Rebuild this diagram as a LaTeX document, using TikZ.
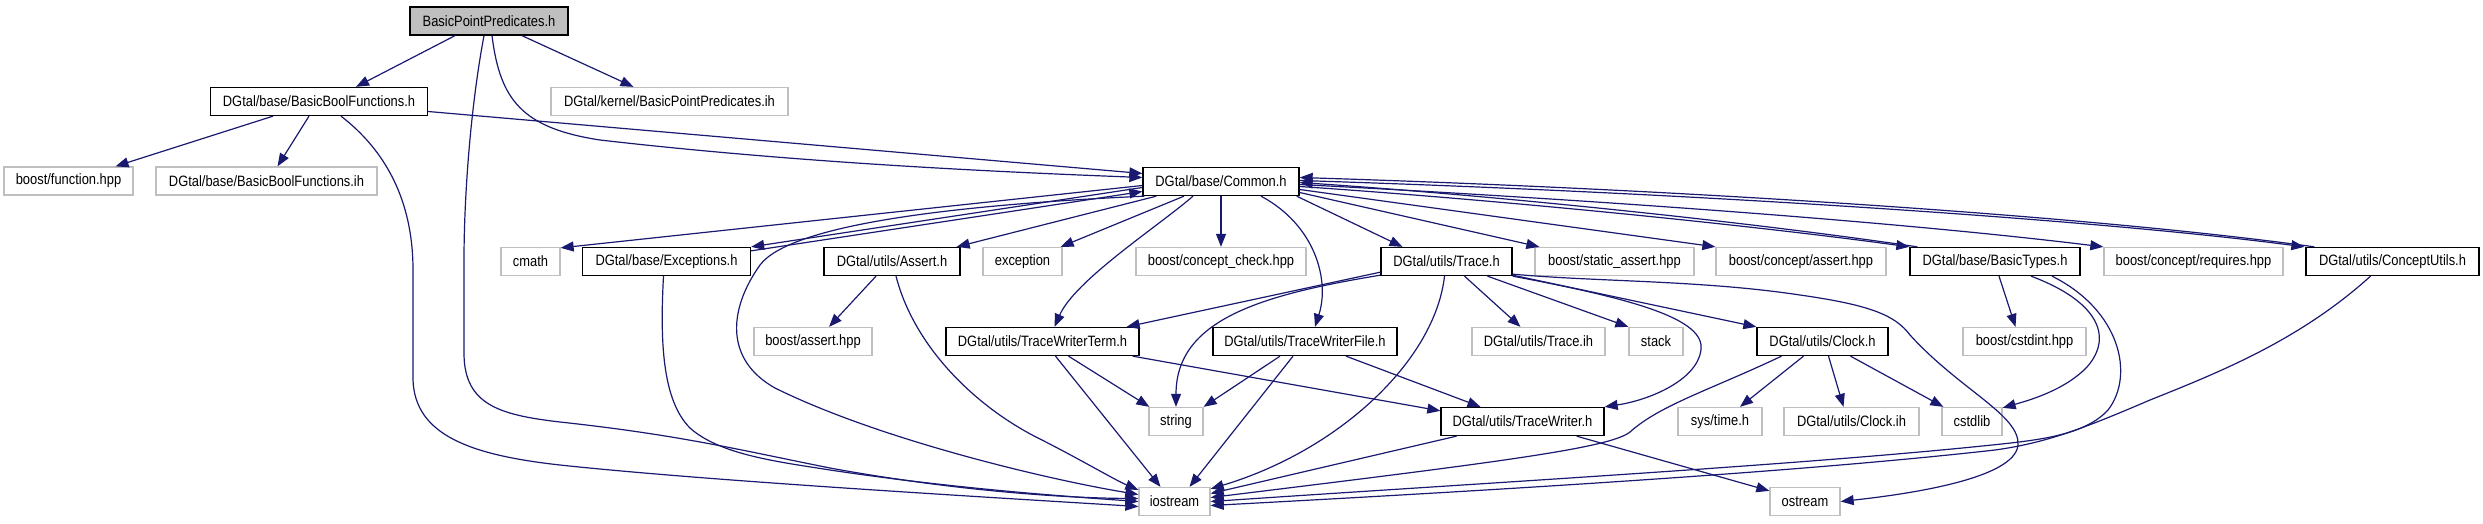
\documentclass[tikz,border=0pt]{standalone}
\usepackage{fontspec}
\setmainfont[FakeStretch=0.86]{Liberation Sans}
\usetikzlibrary{arrows.meta,calc}
\definecolor{edgeblue}{HTML}{191970}
\definecolor{lightgr}{HTML}{BFBFBF}
\begin{document}
\begin{tikzpicture}[x=1pt,y=-1pt,
  nd/.style={draw=black, line width=1.3pt, minimum height=28pt, inner xsep=6pt, inner ysep=0pt, font=\fontsize{15}{17}\selectfont, fill=white},
  ext/.style={nd, draw=lightgr},
  rootnd/.style={nd, fill=lightgr},
  edge/.style={draw=edgeblue, line width=1.2pt, -{Triangle[length=13pt,width=10pt]}}]
\useasboundingbox (0,0) rectangle (2483,523);
% nodes
\node[rootnd, minimum width=158pt] (bpp) at (489,21) {BasicPointPredicates.h};
\node[nd, minimum width=217pt] (bbf) at (319,101.5) {DGtal/base/BasicBoolFunctions.h};
\node[ext, minimum width=237pt] (bppih) at (669.5,101.5) {DGtal/kernel/BasicPointPredicates.ih};
\node[ext, minimum width=129pt] (bfun) at (68.5,181) {boost/function.hpp};
\node[ext, minimum width=221pt] (bbfih) at (266.5,181) {DGtal/base/BasicBoolFunctions.ih};
\node[nd, minimum width=156pt] (common) at (1221,181.5) {DGtal/base/Common.h};
\node[ext, minimum width=59pt] (cmath) at (530.5,261.5) {cmath};
\node[nd, minimum width=168pt] (exc) at (666.5,261.5) {DGtal/base/Exceptions.h};
\node[nd, minimum width=136pt] (assert) at (892,261.5) {DGtal/utils/Assert.h};
\node[ext, minimum width=79pt] (exception) at (1022.5,261.5) {exception};
\node[ext, minimum width=170pt] (cchk) at (1221,261.5) {boost/concept\_check.hpp};
\node[nd, minimum width=131pt] (trace) at (1446.5,261.5) {DGtal/utils/Trace.h};
\node[ext, minimum width=159pt] (sassert) at (1614.5,261.5) {boost/static\_assert.hpp};
\node[ext, minimum width=170pt] (cassert) at (1801,261.5) {boost/concept/assert.hpp};
\node[nd, minimum width=170pt] (btypes) at (1995,261.5) {DGtal/base/BasicTypes.h};
\node[ext, minimum width=179pt] (creq) at (2193.5,261.5) {boost/concept/requires.hpp};
\node[nd, minimum width=173pt] (cutils) at (2392.5,261.5) {DGtal/utils/ConceptUtils.h};
\node[ext, minimum width=118pt] (bassert) at (813,341.5) {boost/assert.hpp};
\node[nd, minimum width=193pt] (twterm) at (1042.5,341.5) {DGtal/utils/TraceWriterTerm.h};
\node[nd, minimum width=184pt] (twfile) at (1305,341.5) {DGtal/utils/TraceWriterFile.h};
\node[ext, minimum width=133pt] (traceih) at (1538.5,341.5) {DGtal/utils/Trace.ih};
\node[ext, minimum width=54pt] (stack) at (1656,341.5) {stack};
\node[nd, minimum width=131pt] (clock) at (1822.5,341.5) {DGtal/utils/Clock.h};
\node[ext, minimum width=123pt] (cstdint) at (2024.5,341.5) {boost/cstdint.hpp};
\node[ext, minimum width=54pt] (string) at (1176,421.5) {string};
\node[nd, minimum width=163pt] (tw) at (1522.5,421.5) {DGtal/utils/TraceWriter.h};
\node[ext, minimum width=84pt] (systime) at (1720,421.5) {sys/time.h};
\node[ext, minimum width=135pt] (clockih) at (1851.5,421.5) {DGtal/utils/Clock.ih};
\node[ext, minimum width=60pt] (cstdlib) at (1972,421.5) {cstdlib};
\node[ext, minimum width=71pt] (iostream) at (1174.5,501.5) {iostream};
\node[ext, minimum width=70pt] (ostream) at (1805,501.5) {ostream};
% edges from BasicPointPredicates.h
\draw[edge] ($(bpp.south)+(-34,0)$) -- ($(bbf.north)+(37,0)$);
\draw[edge] ($(bpp.south)+(33,0)$) -- ($(bppih.north)+(-36,0)$);
\draw[edge] ($(bpp.south)+(3,0)$) .. controls (500,100) and (522,128) .. (600,140) .. controls (800,163) and (1000,172) .. ($(common.west)+(0,-4)$);
\draw[edge] ($(bpp.south)+(-5,0)$) .. controls (470,110) and (464,200) .. (464,260) -- (464,355) .. controls (465,405) and (500,415) .. (560,422) .. controls (680,435) and (740,450) .. (830,468) .. controls (950,490) and (1060,498) .. ($(iostream.west)+(0,-3)$);
% edges from BasicBoolFunctions.h
\draw[edge] ($(bbf.east)+(0,10)$) -- ($(common.west)+(0,-8)$);
\draw[edge] ($(bbf.south)+(-46,0)$) -- ($(bfun.north)+(47,0)$);
\draw[edge] ($(bbf.south)+(-10,0)$) -- ($(bbfih.north)+(11,0)$);
\draw[edge] ($(bbf.south)+(22,0)$) .. controls (385,150) and (413,200) .. (413,270) -- (413,380) .. controls (415,435) and (470,455) .. (560,465) .. controls (700,480) and (950,495) .. ($(iostream.west)+(0,5)$);
% Exceptions
\draw[edge] ($(exc.south)+(-3,0)$) .. controls (660,340) and (662,400) .. (690,428) .. controls (720,455) and (780,462) .. (830,470) .. controls (950,488) and (1060,496) .. ($(iostream.west)+(0,0)$);
% Common
\draw[edge] ($(common.south west)+(2,0)$) .. controls (950,205) and (790,225) .. (760,265) .. controls (728,310) and (725,360) .. (775,388) .. controls (880,440) and (1050,480) .. ($(iostream.west)+(0,-7)$);
\draw[edge] ($(common.west)+(0,4)$) -- ($(cmath.north east)+(0,1)$);
\draw[edge] ($(common.west)+(0,6)$) -- ($(exc.north east)+(0,0)$);
\draw[edge] ($(exc.north east)+(0,4)$) -- ($(common.west)+(0,10)$);
\draw[edge] ($(common.south west)+(14,0)$) -- ($(assert.north east)+(-4,0)$);
\draw[edge] ($(common.south)+(-37,0)$) -- ($(exception.north east)+(-2,0)$);
\draw[edge] (common.south) -- (cchk.north);
\draw[edge] ($(common.south)+(-28,0)$) .. controls (1160,225) and (1075,280) .. ($(twterm.north)+(12,0)$);
\draw[edge] ($(common.south)+(40,0)$) .. controls (1315,225) and (1330,280) .. ($(twfile.north)+(10,0)$);
\draw[edge] ($(common.south east)+(-3,0)$) -- ($(trace.north)+(-44,0)$);
\draw[edge] ($(common.east)+(0,11)$) -- ($(sassert.north west)+(5,0)$);
\draw[edge] ($(common.east)+(0,8)$) -- ($(cassert.north west)+(0,0)$);
\draw[edge] ($(common.east)+(0,5)$) .. controls (1500,200) and (1750,225) .. ($(btypes.north west)+(0,0)$);
\draw[edge] ($(btypes.north west)+(8,0)$) .. controls (1750,222) and (1500,196) .. ($(common.east)+(0,1)$);
\draw[edge] ($(common.east)+(0,3)$) .. controls (1600,200) and (1900,222) .. ($(creq.north west)+(0,0)$);
\draw[edge] ($(common.east)+(0,-1)$) .. controls (1700,193) and (2100,220) .. ($(cutils.north west)+(-1,0)$);
\draw[edge] ($(cutils.north west)+(9,0)$) .. controls (2100,217) and (1700,190) .. ($(common.east)+(0,-4)$);
% Assert
\draw[edge] ($(assert.south)+(4,0)$) .. controls (915,350) and (980,410) .. (1042,440) .. controls (1085,462) and (1115,480) .. ($(iostream.north west)+(0,3)$);
\draw[edge] ($(assert.south)+(-16,0)$) -- ($(bassert.north)+(16,0)$);
% Trace
\draw[edge] ($(trace.south west)+(0,-4)$) -- ($(twterm.north east)+(-13,0)$);
\draw[edge] ($(trace.south west)+(0,-1)$) .. controls (1260,295) and (1176,320) .. (string.north);
\draw[edge] ($(trace.south)+(-2,0)$) .. controls (1435,360) and (1340,450) .. ($(iostream.north east)+(0,2)$);
\draw[edge] ($(trace.south)+(18,0)$) -- ($(traceih.north)+(-18,0)$);
\draw[edge] ($(trace.south)+(41,0)$) -- (stack.north west);
\draw[edge] ($(trace.south east)+(0,-1)$) -- (clock.north west);
\draw[edge] ($(trace.south east)+(0,0)$) .. controls (1640,300) and (1705,320) .. (1701,350) .. controls (1697,380) and (1650,400) .. (tw.north east);
\draw[edge] ($(trace.south east)+(0,-2)$) .. controls (1600,282) and (1700,280) .. (1800,295) .. controls (1870,305) and (1895,315) .. (1910,335) .. controls (1960,390) and (2020,415) .. (2018,445) .. controls (2015,480) and (1900,495) .. (ostream.east);
% TraceWriterTerm / File
\draw[edge] ($(twterm.south)+(26,0)$) -- ($(string.north west)+(1,0)$);
\draw[edge] ($(twterm.south)+(13,0)$) -- ($(iostream.north)+(-14,0)$);
\draw[edge] ($(twterm.south east)+(-7,0)$) -- ($(tw.north west)+(0,4)$);
\draw[edge] ($(twfile.south)+(-25,0)$) -- (string.north east);
\draw[edge] ($(twfile.south)+(-12,0)$) -- ($(iostream.north)+(15,0)$);
\draw[edge] ($(twfile.south)+(41,0)$) -- ($(tw.north)+(-42,0)$);
% TraceWriter
\draw[edge] ($(tw.south)+(-66,0)$) -- ($(iostream.east)+(0,-8)$);
\draw[edge] ($(tw.south east)+(-28,0)$) -- ($(ostream.north west)+(0,4)$);
% Clock
\draw[edge] ($(clock.south)+(-19,0)$) -- ($(systime.north)+(20,0)$);
\draw[edge] ($(clock.south)+(6,0)$) -- ($(clockih.north)+(-8,0)$);
\draw[edge] ($(clock.south)+(28,0)$) -- ($(cstdlib.north west)+(2,0)$);
\draw[edge] ($(clock.south)+(-41,0)$) .. controls (1710,390) and (1660,405) .. (1630,432) .. controls (1610,448) and (1500,462) .. ($(iostream.east)+(0,-4)$);
% BasicTypes
\draw[edge] ($(btypes.south)+(4,0)$) -- ($(cstdint.north)+(-9,0)$);
\draw[edge] ($(btypes.south)+(36,0)$) .. controls (2095,300) and (2115,335) .. (2087,367) .. controls (2065,390) and (2030,400) .. ($(cstdlib.north east)+(0,1)$);
\draw[edge] ($(btypes.south)+(57,0)$) .. controls (2120,310) and (2135,375) .. (2108,410) .. controls (2085,435) and (2040,440) .. (1992,445) .. controls (1800,465) and (1500,482) .. ($(iostream.east)+(0,0)$);
% ConceptUtils
\draw[edge] ($(cutils.south)+(-22,0)$) .. controls (2300,340) and (2220,372) .. (2150,400) .. controls (2080,430) and (2045,443) .. (1995,450) .. controls (1800,472) and (1500,490) .. ($(iostream.east)+(0,4)$);
\end{tikzpicture}
\end{document}
